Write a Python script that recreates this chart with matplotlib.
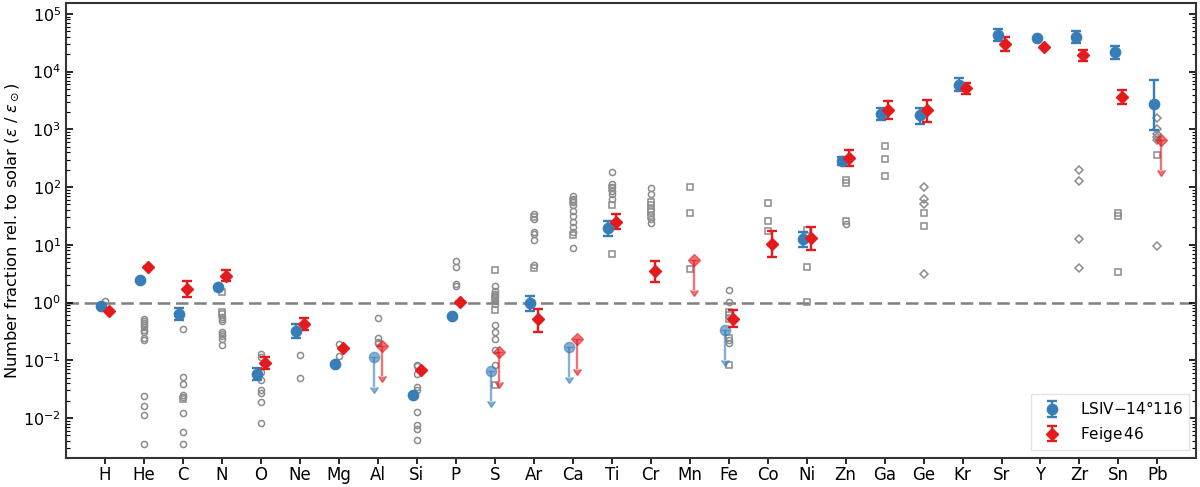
import numpy as np
import matplotlib
matplotlib.use('Agg')
from matplotlib import pyplot as plt

nan = np.nan

elements = ['H', 'He', 'C', 'N', 'O', 'Ne', 'Mg', 'Al', 'Si', 'P', 'S', 'Ar', 'Ca', 'Ti',
            'Cr', 'Mn', 'Fe', 'Co', 'Ni', 'Zn', 'Ga', 'Ge', 'Kr', 'Sr', 'Y', 'Zr', 'Sn', 'Pb']

# LSIV-14 116 : value, lower / upper end of error bar, upper-limit flag
lsiv_val = [0.86, 2.5, 0.64, 1.89, 0.058, 0.32, 0.085, 0.116, 0.0248, 0.58, 0.065, 0.97, 0.168, 19.4,
            nan, nan, 0.34, nan, 12.7, 281, 1860, 1740, 5840, 42400, 38600, 39600, 21800, 2700]
lsiv_lo = [nan, nan, 0.49, nan, 0.045, 0.24, nan, nan, nan, nan, nan, 0.71, nan, 14.3,
           nan, nan, nan, nan, 9.3, 237, 1430, 1250, 4540, 33400, nan, 31600, 16700, 985]
lsiv_hi = [nan, nan, 0.81, nan, 0.074, 0.42, nan, nan, nan, nan, nan, 1.32, nan, 26,
           nan, nan, nan, nan, 16.5, 330, 2370, 2330, 7710, 53800, nan, 50400, 27700, 7030]
lsiv_ul = ['Al', 'S', 'Ca', 'Fe']

# Feige 46
feige_val = [0.72, 4.1, 1.73, 2.9, 0.090, 0.43, 0.161, 0.177, 0.069, 1.03, 0.138, 0.51, 0.234, 25.3,
             3.5, 5.5, 0.52, 10.4, 13.0, 321, 2190, 2130, 5120, 30400, 26300, 19100, 3620, 660]
feige_lo = [nan, nan, 1.27, 2.34, 0.070, 0.33, nan, nan, nan, nan, nan, 0.31, nan, 18.6,
            2.3, nan, 0.37, 6.1, 8.2, 230, 1490, 1320, 4080, 22700, nan, 15000, 2700, nan]
feige_hi = [nan, nan, 2.34, 3.6, 0.116, 0.54, nan, nan, nan, nan, nan, 0.78, nan, 33.5,
            5.2, nan, 0.73, 17.2, 20.0, 430, 3040, 3170, 6320, 39600, nan, 24000, 4720, nan]
feige_ul = ['Al', 'S', 'Ca', 'Mn', 'Pb']

# comparison stars (grey open symbols)
cmp_circles = {
    'H': [1.08],
    'He': [0.52, 0.48, 0.44, 0.40, 0.37, 0.34, 0.31, 0.24, 0.22, 0.024, 0.016, 0.0113, 0.0036],
    'C': [0.345, 0.051, 0.039, 0.025, 0.023, 0.0122, 0.0056, 0.0036],
    'N': [0.56, 0.51, 0.47, 0.31, 0.29, 0.26, 0.23, 0.18],
    'O': [0.129, 0.113, 0.062, 0.046, 0.030, 0.027, 0.019, 0.0082],
    'Ne': [0.124, 0.050],
    'Mg': [0.19, 0.12],
    'Al': [0.54, 0.245, 0.21, 0.20],
    'Si': [0.083, 0.078, 0.058, 0.034, 0.031, 0.0126, 0.0074, 0.0065, 0.0042],
    'P': [5.3, 4.1, 2.1, 1.97],
    'S': [1.97, 1.6, 1.41, 1.24, 1.08, 0.95, 0.40, 0.31, 0.235, 0.153, 0.083],
    'Ar': [34, 28, 16.5, 15.5, 11.9, 4.5],
    'Ca': [71, 63, 55, 48, 39, 31, 25, 20, 16.5, 8.9],
    'Ti': [181, 114, 100, 87, 77, 63],
    'Cr': [96, 77, 28, 24],
    'Fe': [1.66, 1.04, 0.225, 0.197],
    'Zn': [22.5],
}
cmp_squares = {
    'C': [0.021],
    'N': [1.55, 0.68, 0.62],
    'S': [3.7, 1.3, 1.15, 0.75, 0.037],
    'Ar': [30, 4.0],
    'Ca': [58, 14.5],
    'Ti': [95, 48, 7.0],
    'Cr': [55, 48, 42, 37, 32],
    'Mn': [100, 35, 3.8],
    'Fe': [0.68, 0.60, 0.52, 0.24, 0.084],
    'Co': [53, 25.7, 17.2],
    'Ni': [17.7, 4.2, 1.04],
    'Zn': [134, 117, 26],
    'Ga': [505, 305, 153],
    'Ge': [36, 21],
    'Sn': [35, 31, 3.4],
    'Pb': [353],
}
cmp_diamonds = {
    'Ge': [100, 63, 50, 3.1],
    'Zr': [200, 125, 12.5, 3.9],
    'Pb': [1560, 1020, 840, 735, 643, 9.7],
}

blue = '#377eb8'
red = '#e41a1c'
grey = '#8c8c8c'

x = np.arange(len(elements))
idx = {el: i for i, el in enumerate(elements)}

fig = plt.figure(figsize=(12, 4.87), dpi=100)
ax = fig.add_axes([0.055, 0.06, 0.942, 0.934])

# comparison stars
for cmp, mk, size in [(cmp_circles, 'o', 4.4), (cmp_squares, 's', 4.2), (cmp_diamonds, 'D', 3.7)]:
    for el, vals in cmp.items():
        ax.plot([idx[el]] * len(vals), vals, ls='none', marker=mk, ms=size,
                mfc='none', mec=grey, mew=1.1, zorder=2)

ax.axhline(1.0, color='grey', ls=(0, (5, 2.3)), lw=1.8, zorder=1)


def draw_star(vals, lo, hi, ulist, col, mk, ms, dx, label):
    vals = np.array(vals)
    lo = np.array(lo)
    hi = np.array(hi)
    ul = np.array([el in ulist for el in elements])
    det = ~ul & ~np.isnan(vals)
    err = np.vstack([np.nan_to_num(vals - lo), np.nan_to_num(hi - vals)])
    h = ax.errorbar(x[det] + dx, vals[det], yerr=err[:, det], ls='none', marker=mk, ms=ms,
                    color=col, mec=col, elinewidth=1.7, capsize=3.5, capthick=1.7, zorder=5,
                    label=label)
    ax.errorbar(x[ul] + dx, vals[ul], yerr=0.7 * vals[ul], uplims=True, ls='none', marker=mk,
                ms=ms, color=col, mec=col, elinewidth=1.7, capsize=3, alpha=0.6, zorder=4)
    return h


h1 = draw_star(lsiv_val, lsiv_lo, lsiv_hi, lsiv_ul, blue, 'o', 7.4, -0.1, 'LSIV$-$14°116')
h2 = draw_star(feige_val, feige_lo, feige_hi, feige_ul, red, 'D', 5.8, 0.1, 'Feige$\\,$46')

ax.set_yscale('log')
ax.set_ylim(10 ** -2.69, 10 ** 5.19)
ax.set_xlim(-1, 28)
ax.set_xticks(x)
ax.set_xticklabels(elements)
ax.set_ylabel(r'Number fraction rel. to solar ($\varepsilon$ / $\varepsilon_\odot$)', fontsize=11.7)
ax.yaxis.set_label_coords(-0.0395, 0.5)
ax.tick_params(axis='x', labelsize=12, direction='out', length=4, width=1.2, pad=2)
ax.tick_params(axis='y', which='both', direction='in', left=True, right=True, labelsize=11.5)
ax.tick_params(axis='y', which='major', length=5, width=1.2)
ax.tick_params(axis='y', which='minor', length=3, width=0.8)
for sp in ax.spines.values():
    sp.set_linewidth(1.5)
    sp.set_color('#333333')

leg = ax.legend(handles=[h1, h2], loc='lower right', fontsize=11, fancybox=False,
                edgecolor='#dddddd')

fig.savefig('out.png', dpi=100)
